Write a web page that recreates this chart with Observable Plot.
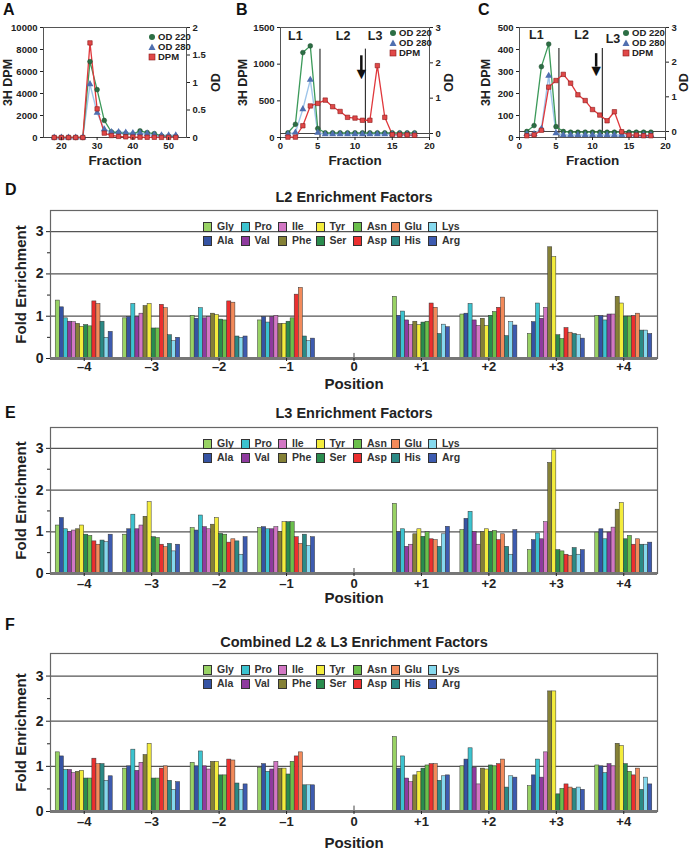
<!DOCTYPE html>
<html>
<head>
<meta charset="utf-8">
<script src="https://cdn.jsdelivr.net/npm/d3@7"></script>
<script src="https://cdn.jsdelivr.net/npm/@observablehq/plot@0.6"></script>
<style>
  body { margin: 0; background: #fff; }
  #root { position: relative; width: 692px; height: 853px; overflow: hidden; background: #fff;
          font-family: "Liberation Sans", Arial, Helvetica, sans-serif; color: #222; }
  .sw { display: inline-block; width: 7px; height: 8px; border: 1px solid #333; vertical-align: middle; margin-right: 5px; }
</style>
</head>
<body>
<div id="root"></div>
<script>
// ---------------- DATA ----------------
// Panel A (gel filtration fractions)
const fractionsA = [18,20,22,24,26,28,30,32,34,36,38,40,42,44,46,48,50,52];
const od220A = [0,0,0,0,0,1.38,0.87,0.31,0.10,0.09,0.07,0.06,0.12,0.09,0.07,0.03,0.02,0.02];
const od280A = [0,0,0,0,0,0.97,0.45,0.15,0.10,0.10,0.09,0.08,0.08,0.07,0.05,0.04,0.04,0.04];
const dpmA   = [0,0,0,0,0,8600,2600,400,180,100,60,40,30,20,20,10,10,10];

// Panel B
const fractionsB = [1,2,3,4,5,6,7,8,9,10,11,12,13,14,15,16,17,18];
const od220B = [0.02,0.26,2.29,2.48,0.14,0.02,0.02,0.02,0.02,0.02,0.02,0.02,0.02,0.02,0.02,0.02,0.02,0.02];
const od280B = [-0.02,0.03,0.69,1.52,0.02,-0.02,-0.02,-0.02,-0.02,-0.02,-0.02,-0.02,-0.02,-0.02,-0.02,-0.02,-0.02,-0.02];
const dpmB   = [5,5,160,430,465,510,420,355,275,265,235,235,980,275,40,35,35,30];

// Panel C
const fractionsC = [1,2,3,4,5,6,7,8,9,10,11,12,13,14,15,16,17,18];
const od220C = [0.0,0.17,1.87,2.52,0.14,0.0,-0.02,-0.02,-0.02,-0.02,-0.02,-0.02,-0.02,-0.02,-0.02,-0.02,-0.02,-0.02];
const od280C = [-0.07,-0.07,0.08,1.61,-0.05,-0.1,-0.1,-0.1,-0.1,-0.1,-0.1,-0.1,-0.1,-0.1,-0.1,-0.1,-0.1,-0.1];
const dpmC   = [8,12,33,229,259,287,247,194,168,127,102,76,117,26,11,11,8,8];

// Peak region annotations (B and C)
const regionLabels = ["L1","L2","L3"];
const regionXB = [2.0, 8.4, 12.7];
const regionXC = [2.3, 8.5, 12.8];
const dividersB = [5.3, 11.4];
const dividersC = [5.4, 11.35];
const arrowB = [10.85];
const arrowC = [10.5];

// Panels D-F (enrichment factors)
const aminoAcids = ["Gly","Ala","Pro","Val","Ile","Phe","Tyr","Ser","Asn","Asp","Glu","His","Lys","Arg"];
const aaColors   = ["#98d264","#3553a3","#3cc3cf","#8e3a9e","#d277c4","#858136","#f3ec3c","#2a8c4e","#6abf4b","#ec2f2f","#f28a5a","#2b8a86","#86d9ee","#3d5bb0"];
const legendRow1 = ["Gly","Pro","Ile","Tyr","Asn","Glu","Lys"];
const legendRow2 = ["Ala","Val","Phe","Ser","Asp","His","Arg"];
const positions = [-4,-3,-2,-1,1,2,3,4];
const positionTicks = [-4,-3,-2,-1,0,1,2,3,4];

const l2Values = [
  [1.37,1.21,0.95,0.87,0.86,0.82,0.75,0.79,0.76,1.35,1.29,0.87,0.49,0.63],
  [0.95,0.98,1.29,0.98,1.06,1.24,1.29,0.71,0.71,1.27,1.19,0.55,0.41,0.49],
  [1.01,0.94,1.19,0.95,0.98,1.06,1.03,0.92,0.90,1.35,1.32,0.52,0.49,0.52],
  [0.90,0.98,0.85,0.98,1.01,0.82,0.82,0.87,0.95,1.51,1.67,0.52,0.41,0.47],
  [1.46,1.01,1.11,0.90,0.79,0.87,0.79,0.85,0.87,1.30,1.20,0.58,0.80,0.74],
  [1.04,1.06,1.29,0.90,0.77,0.94,0.77,1.01,1.10,1.20,1.44,0.53,0.86,0.78],
  [0.58,0.86,1.30,0.94,1.20,2.63,2.40,0.55,0.46,0.72,0.61,0.58,0.55,0.47],
  [1.00,1.00,0.90,1.04,1.04,1.46,1.30,0.99,0.99,1.00,1.06,0.66,0.66,0.58]
];
const l3Values = [
  [1.15,1.33,1.06,0.99,1.03,1.06,1.15,0.93,0.90,0.77,0.69,0.79,0.75,0.93],
  [0.93,1.06,1.41,1.06,1.15,1.36,1.71,0.87,0.85,0.69,0.63,0.71,0.53,0.69],
  [1.09,1.03,1.39,1.11,1.06,1.17,1.33,0.95,0.93,0.74,0.82,0.77,0.45,0.87],
  [1.09,1.11,1.06,1.06,1.11,1.00,1.23,1.23,1.23,0.87,0.71,0.93,0.66,0.87],
  [1.67,0.99,1.06,0.64,0.69,0.94,1.06,0.88,0.99,0.82,0.80,0.64,0.94,1.12],
  [1.04,1.31,1.48,0.99,0.69,0.99,1.06,0.99,1.02,0.80,0.94,0.64,0.45,1.04],
  [0.56,0.80,0.96,0.82,1.23,2.65,2.95,0.56,0.53,0.45,0.42,0.61,0.45,0.56],
  [0.98,1.06,0.82,0.98,1.10,1.53,1.69,0.82,0.90,0.69,0.82,0.69,0.69,0.74]
];
const combinedValues = [
  [1.31,1.22,0.92,0.92,0.85,0.88,0.90,0.73,0.73,1.17,1.05,1.05,0.68,0.78],
  [0.95,1.00,1.37,0.90,1.08,1.25,1.50,0.73,0.73,0.95,1.00,0.68,0.48,0.65],
  [1.08,1.00,1.33,1.00,0.93,1.10,1.10,0.80,0.80,1.15,1.13,0.62,0.48,0.60],
  [0.97,1.05,0.88,0.93,1.10,0.95,0.95,0.82,1.10,1.22,1.31,0.58,0.58,0.58],
  [1.65,0.95,1.22,0.73,0.65,0.80,0.88,0.95,1.02,1.05,1.05,0.68,0.78,0.80],
  [1.00,1.15,1.40,0.97,0.60,0.95,0.93,1.02,1.00,1.05,1.15,0.53,0.78,0.75],
  [0.56,0.80,1.15,0.75,1.31,2.66,2.66,0.38,0.50,0.60,0.53,0.50,0.53,0.48],
  [1.02,1.00,0.85,1.05,1.00,1.50,1.45,1.05,0.88,0.80,0.95,0.48,0.75,0.60]
];

// ---------------- DRAWING ----------------
const FONT = '"Liberation Sans", Arial, Helvetica, sans-serif';
const root = document.getElementById("root");
function addDiv(html, left, top, css = "") {
  const d = document.createElement("div");
  d.style.cssText = `position:absolute;left:${left}px;top:${top}px;white-space:nowrap;${css}`;
  d.innerHTML = html;
  root.appendChild(d);
  return d;
}
function addNode(node, left, top) { const d = addDiv("", left, top); d.appendChild(node); }

const C220 = {line: "#3c9a5a", fill: "#2c6e44"};
const C280 = {line: "#9ec5ea", fill: "#4f6fb0"};
const CDPM = {line: "#e0383c", fill: "#e04848"};
const centered = {textAnchor: "middle", lineAnchor: "middle"};

function smallPanel(cfg) {
  const toY = v => cfg.odOffset + v * cfg.odScale;
  const s220 = cfg.fr.map((f, i) => ({f, v: cfg.od220[i]}));
  const s280 = cfg.fr.map((f, i) => ({f, v: cfg.od280[i]}));
  const sdpm = cfg.fr.map((f, i) => ({f, v: cfg.dpm[i]}));
  const odFmt = d => { const o = Math.round((d - cfg.odOffset) / cfg.odScale * 10) / 10; return String(o); };
  const marks = [
    Plot.frame({stroke: "#555"}),
    Plot.ruleY([cfg.odOffset], {stroke: "#444", strokeWidth: 1})
  ];
  if (cfg.dividers) {
    marks.push(Plot.ruleX(cfg.dividers, {y1: 0, y2: cfg.dividerTop, stroke: "#333", strokeWidth: 1.2}));
    marks.push(Plot.ruleX(cfg.arrow, {y1: cfg.arrowTop, y2: cfg.arrowShaftEnd, stroke: "#111", strokeWidth: 2.5}));
    marks.push(Plot.text(cfg.arrow, {x: d => d, y: cfg.arrowHead, text: () => "▼", fontSize: 16, fill: "#111"}));
    marks.push(Plot.text(regionLabels, {x: (d, i) => cfg.regionX[i], y: (d, i) => cfg.regionY[i], text: d => d, fontSize: 12.5, fontWeight: "bold"}));
  }
  marks.push(
    Plot.line(s280, {x: "f", y: d => toY(d.v), stroke: C280.line, strokeWidth: 1.4}),
    Plot.line(s220, {x: "f", y: d => toY(d.v), stroke: C220.line, strokeWidth: 1.3}),
    Plot.line(sdpm, {x: "f", y: "v", stroke: CDPM.line, strokeWidth: 1.3}),
    Plot.dot(s220, {x: "f", y: d => toY(d.v), symbol: "circle", r: 2.4, fill: C220.fill, stroke: "#1d4a2c", strokeWidth: 0.5}),
    Plot.dot(s280, {x: "f", y: d => toY(d.v), symbol: "triangle", r: 2.6, fill: C280.fill}),
    Plot.dot(sdpm, {x: "f", y: "v", symbol: "square", r: 2.5, fill: CDPM.fill, stroke: "#8a1a1a", strokeWidth: 0.6}),
    Plot.axisX(cfg.xTicks, {tickSize: 3, tickPadding: 2, fontSize: 9.5, label: null, tickFormat: d => String(d)}),
    Plot.axisY(cfg.yTicks, {tickSize: 3, tickPadding: 3, fontSize: 9.5, label: null, tickFormat: d => String(d)}),
    Plot.axisY(cfg.odTicks.map(toY), {anchor: "right", tickSize: 3, tickPadding: 3, fontSize: 9.5, label: null, tickFormat: odFmt}),
    Plot.text(["Fraction"], {frameAnchor: "bottom", dy: 23, text: d => d, fontSize: 13.5, fontWeight: "bold", ...centered}),
    Plot.text(["3H DPM"], {frameAnchor: "left", dx: cfg.yLabelDx, rotate: -90, text: d => d, fontSize: 12.5, fontWeight: "bold", ...centered}),
    Plot.text(["OD"], {frameAnchor: "right", dx: cfg.odLabelDx, rotate: -90, text: d => d, fontSize: 12.5, fontWeight: "bold", ...centered})
  );
  return Plot.plot({
    width: cfg.width, height: 170,
    marginLeft: cfg.ml, marginRight: cfg.mr, marginTop: 27, marginBottom: 33,
    style: {fontFamily: FONT, fontSize: "9.5px", fontWeight: "bold", color: "#222", background: "transparent"},
    x: {domain: cfg.xDomain},
    y: {domain: [0, cfg.yMax]},
    marks
  });
}

function smallLegend(mx, tx, ys) {
  const items = [
    [`<svg width="8" height="8"><circle cx="4" cy="4" r="3" fill="${C220.fill}"/></svg>`, "OD 220"],
    [`<svg width="8" height="8"><path d="M4,0.5L7.5,7H0.5Z" fill="${C280.fill}"/></svg>`, "OD 280"],
    [`<svg width="8" height="8"><rect x="1" y="1" width="6" height="6" fill="${CDPM.fill}" stroke="#8a1a1a" stroke-width="0.6"/></svg>`, "DPM"]
  ];
  items.forEach(([m, t], i) => {
    addDiv(m, mx - 4, ys[i] - 4, "line-height:0");
    addDiv(t, tx, ys[i] - 6, `font:bold 9.5px ${FONT};line-height:12px;color:#222`);
  });
}

// Panel A
addNode(smallPanel({
  width: 230, ml: 43, mr: 44, xDomain: [15, 55], xTicks: [20, 30, 40, 50],
  yMax: 10000, yTicks: [0, 2000, 4000, 6000, 8000, 10000],
  odTicks: [0, 0.5, 1, 1.5, 2], odOffset: 0, odScale: 5000,
  fr: fractionsA, od220: od220A, od280: od280A, dpm: dpmA,
  yLabelDx: -36, odLabelDx: 29
}), 0, 0);
smallLegend(152, 158, [37, 47, 57]);

// Panel B
addNode(smallPanel({
  width: 230, ml: 50, mr: 31, xDomain: [0, 20], xTicks: [0, 5, 10, 15, 20],
  yMax: 1500, yTicks: [0, 500, 1000, 1500],
  odTicks: [0, 1, 2, 3], odOffset: 54.5, odScale: 481.8,
  fr: fractionsB, od220: od220B, od280: od280B, dpm: dpmB,
  yLabelDx: -38, odLabelDx: 19,
  dividers: dividersB, dividerTop: 1205, arrow: arrowB, arrowTop: 1114, arrowShaftEnd: 900, arrowHead: 870,
  regionX: regionXB, regionY: [1390, 1390, 1390]
}), 230, 0);
smallLegend(393, 399, [33, 43, 53]);

// Panel C
addNode(smallPanel({
  width: 232, ml: 59, mr: 27, xDomain: [0, 20], xTicks: [0, 5, 10, 15, 20],
  yMax: 500, yTicks: [0, 100, 200, 300, 400, 500],
  odTicks: [0, 1, 2, 3], odOffset: 27.3, odScale: 157.6,
  fr: fractionsC, od220: od220C, od280: od280C, dpm: dpmC,
  yLabelDx: -34, odLabelDx: 18,
  dividers: dividersC, dividerTop: 404, arrow: arrowC, arrowTop: 381, arrowShaftEnd: 320, arrowHead: 305,
  regionX: regionXC, regionY: [465, 465, 450]
}), 460, 0);
smallLegend(626, 632, [33, 43, 53]);

// Panel letters
const letterCss = `font:bold 16px ${FONT};line-height:16px;color:#111`;
addDiv("A", 3, 2, letterCss);
addDiv("B", 236, 2, letterCss);
addDiv("C", 478, 2, letterCss);
addDiv("D", 5, 182, letterCss);
addDiv("E", 5, 405, letterCss);
addDiv("F", 5, 617, letterCss);

// Enrichment panels
const fmtPos = d => d > 0 ? "+" + d : d < 0 ? "–" + Math.abs(d) : "0";
function enrichPanel(cfg) {
  const data = [];
  positions.forEach((p, gi) => aminoAcids.forEach((aa, i) => data.push({pos: p, aa, i, v: cfg.values[gi][i]})));
  const gw = 0.845, bw = gw / aminoAcids.length;
  return Plot.plot({
    width: 692, height: cfg.height,
    marginLeft: 50, marginRight: 35, marginTop: cfg.mt, marginBottom: cfg.mb,
    style: {fontFamily: FONT, fontWeight: "bold", color: "#222", background: "transparent"},
    x: {domain: [-4.5, 4.5]},
    y: {domain: [0, 3.5]},
    color: {domain: aminoAcids, range: aaColors},
    marks: [
      Plot.ruleY([1, 2, 3], {stroke: "#555", strokeWidth: 1.2}),
      Plot.ruleX(positionTicks, {y1: 0, y2: 0.12, stroke: "#444"}),
      Plot.rectY(data, {
        x1: d => d.pos - gw / 2 + d.i * bw,
        x2: d => d.pos - gw / 2 + (d.i + 1) * bw,
        y: "v", fill: "aa", stroke: "#333", strokeWidth: 0.5
      }),
      Plot.frame({stroke: "#666", strokeWidth: 1.2}),
      Plot.ruleY([0], {stroke: "#777", strokeWidth: 3}),
      Plot.axisY([0, 1, 2, 3], {tickSize: 4, tickPadding: 3, fontSize: 14, label: null, tickFormat: d => String(d)}),
      Plot.axisY([0.5, 1.5, 2.5], {tickSize: 3, label: null, tickFormat: () => ""}),
      Plot.axisX(positionTicks, {tickSize: 3, tickPadding: cfg.xPad, fontSize: 13, label: null, tickFormat: fmtPos}),
      Plot.text([cfg.title], {frameAnchor: "top", dy: cfg.titleDy, text: d => d, fontSize: 14.5, fontWeight: "bold", ...centered}),
      Plot.text(["Position"], {frameAnchor: "bottom", dy: cfg.posDy, text: d => d, fontSize: 15, fontWeight: "bold", ...centered}),
      Plot.text(["Fold Enrichment"], {frameAnchor: "left", dx: -29, rotate: -90, text: d => d, fontSize: 15, fontWeight: "bold", ...centered})
    ]
  });
}
function enrichLegend(frameTop) {
  [legendRow1, legendRow2].forEach((row, r) => {
    row.forEach((aa, k) => {
      const col = aaColors[aminoAcids.indexOf(aa)];
      addDiv(`<span class="sw" style="background:${col}"></span>${aa}`,
        203 + 37.5 * k, frameTop + 16 + 14 * r - 7,
        `font:bold 10.5px ${FONT};line-height:14px;color:#333`);
    });
  });
}

addNode(enrichPanel({values: l2Values, title: "L2 Enrichment Factors", height: 207, mt: 25, mb: 34, xPad: 0, titleDy: -13, posDy: 26}), 0, 185);
enrichLegend(210);
addNode(enrichPanel({values: l3Values, title: "L3 Enrichment Factors", height: 205, mt: 27, mb: 32, xPad: 2, titleDy: -14, posDy: 25}), 0, 400);
enrichLegend(427);
addNode(enrichPanel({values: combinedValues, title: "Combined L2 & L3 Enrichment Factors", height: 226, mt: 28, mb: 40, xPad: 2, titleDy: -11, posDy: 32}), 0, 625);
enrichLegend(653);
</script>
</body>
</html>
